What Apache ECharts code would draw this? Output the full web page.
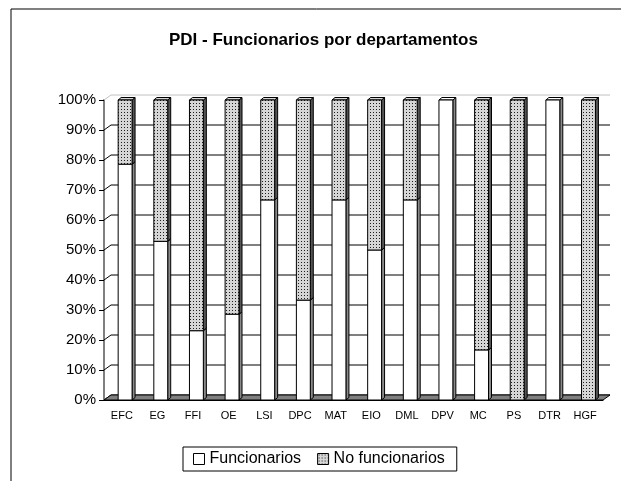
<!DOCTYPE html>
<html>
<head>
<meta charset="utf-8">
<script src="https://cdn.jsdelivr.net/npm/echarts@6/dist/echarts.min.js"></script>
<style>
  html, body { margin: 0; padding: 0; background: #fff; }
  #chart { width: 621px; height: 481px; }
</style>
</head>
<body>
<div id="chart"></div>
<script>
// departamentos y porcentajes
var departamentos = ['EFC', 'EG', 'FFI', 'OE', 'LSI', 'DPC', 'MAT', 'EIO', 'DML', 'DPV', 'MC', 'PS', 'DTR', 'HGF']
var funcionarios = [78.6, 52.9, 23.1, 28.6, 66.7, 33.3, 66.7, 50, 66.7, 100, 16.7, 0, 100, 0]
var noFuncionarios = [21.4, 47.1, 76.9, 71.4, 33.3, 66.7, 33.3, 50, 33.3, 0, 83.3, 100, 0, 100]
var yTicks = [0, 10, 20, 30, 40, 50, 60, 70, 80, 90, 100]

var DX = 7, DY = 5        // profundidad de la pared del fondo
var BDX = 3, BDY = 2.5    // profundidad de las barras

// textura punteada
var pat = document.createElement('canvas')
pat.width = 3
pat.height = 3
var pc = pat.getContext('2d')
pc.fillStyle = '#d6d6d6'
pc.fillRect(0, 0, 3, 3)
pc.fillStyle = '#1e1e1e'
pc.fillRect(1, 1, 1, 1)
var dotted = { image: pat, repeat: 'repeat' }

// segmentos apilados [indice, base, tope]
function stackData (vals, bases) {
  return vals.map(function (v, i) { return [i, bases[i], bases[i] + v] })
}
var zeros = departamentos.map(function () { return 0 })

function renderBar (front, side, top) {
  return function (params, api) {
    var lo = api.value(1), hi = api.value(2)
    if (hi - lo <= 0) return null
    var p0 = api.coord([api.value(0), lo])
    var p1 = api.coord([api.value(0), hi])
    var bw = api.size([1, 0])[0] * 0.39
    var x = p0[0] + 3.3 - bw / 2
    var yT = p1[1], yB = p0[1]
    return {
      type: 'group',
      children: [
        { type: 'polygon', shape: { points: [[x + bw, yT], [x + bw + BDX, yT - BDY], [x + bw + BDX, yB - BDY], [x + bw, yB]] },
          style: { fill: side, stroke: '#000', lineWidth: 1 } },
        { type: 'polygon', shape: { points: [[x, yT], [x + BDX, yT - BDY], [x + bw + BDX, yT - BDY], [x + bw, yT]] },
          style: { fill: top, stroke: '#000', lineWidth: 1 } },
        { type: 'rect', shape: { x: x, y: yT, width: bw, height: yB - yT },
          style: { fill: front, stroke: '#000', lineWidth: 1 } }
      ]
    }
  }
}

var option = {
  animation: false,
  backgroundColor: '#fff',
  textStyle: { fontFamily: 'Liberation Sans, Arial, sans-serif', color: '#000' },
  title: {
    text: 'PDI - Funcionarios por departamentos',
    left: 164,
    top: 27,
    textStyle: { fontSize: 17, fontWeight: 'bold', color: '#000', fontFamily: 'Liberation Sans, Arial, sans-serif' }
  },
  graphic: [{
    type: 'rect', shape: { x: 11, y: 9, width: 700, height: 600 },
    style: { fill: null, stroke: '#000', lineWidth: 1 }, silent: true
  }],
  legend: {
    left: 183,
    top: 447,
    orient: 'horizontal',
    borderColor: '#000',
    borderWidth: 1,
    padding: [4, 12, 4, 10],
    itemWidth: 11,
    itemHeight: 11,
    itemGap: 16,
    icon: 'rect',
    textStyle: { fontSize: 16, color: '#000' },
    data: [
      { name: 'Funcionarios', itemStyle: { color: '#fff', borderColor: '#000', borderWidth: 1 } },
      { name: 'No funcionarios', itemStyle: { color: dotted, borderColor: '#000', borderWidth: 1 } }
    ]
  },
  grid: { left: 104, top: 100, width: 499, height: 300 },
  xAxis: {
    type: 'category',
    data: departamentos,
    boundaryGap: true,
    axisLine: { lineStyle: { color: '#000', width: 1 } },
    axisTick: { length: 4, lineStyle: { color: '#000' } },
    axisLabel: { fontSize: 11, color: '#000', margin: 10, interval: 0 },
    splitLine: { show: false }
  },
  yAxis: {
    type: 'value',
    min: 0,
    max: 100,
    interval: 10,
    axisLine: { show: true, lineStyle: { color: '#808080', width: 2 } },
    axisTick: { show: true, length: 5, lineStyle: { color: '#000' } },
    axisLabel: { fontSize: 15, color: '#000', margin: 8, formatter: '{value}%' },
    splitLine: { show: false }
  },
  series: [
    {
      name: 'grid3d',
      type: 'custom',
      silent: true,
      z: 1,
      data: yTicks.map(function (v) { return [0, v] }),
      renderItem: function (params, api) {
        var cs = params.coordSys
        var v = api.value(1)
        var y = api.coord([0, v])[1]
        var col = v === 100 ? '#c0c0c0' : '#000'
        return {
          type: 'group',
          children: [
            { type: 'line', shape: { x1: cs.x, y1: y, x2: cs.x + DX, y2: y - DY }, style: { stroke: col, lineWidth: 1 } },
            { type: 'line', shape: { x1: cs.x + DX, y1: y - DY, x2: cs.x + cs.width + DX, y2: y - DY }, style: { stroke: col, lineWidth: 1 } }
          ]
        }
      }
    },
    {
      name: 'floor',
      type: 'custom',
      silent: true,
      z: 2,
      data: [[0, 0]],
      renderItem: function (params, api) {
        var cs = params.coordSys
        var yb = api.coord([0, 0])[1]
        return {
          type: 'polygon',
          shape: { points: [[cs.x, yb], [cs.x + cs.width, yb], [cs.x + cs.width + DX, yb - DY], [cs.x + DX, yb - DY]] },
          style: { fill: '#808080', stroke: '#000', lineWidth: 1 }
        }
      }
    },
    {
      name: 'Funcionarios',
      type: 'custom',
      z: 3,
      itemStyle: { color: '#fff', borderColor: '#000' },
      encode: { x: 0, y: [1, 2] },
      data: stackData(funcionarios, zeros),
      renderItem: renderBar('#fff', '#8a8a8a', '#fff')
    },
    {
      name: 'No funcionarios',
      type: 'custom',
      z: 4,
      itemStyle: { color: dotted, borderColor: '#000' },
      encode: { x: 0, y: [1, 2] },
      data: stackData(noFuncionarios, funcionarios),
      renderItem: renderBar(dotted, '#555555', dotted)
    }
  ]
}

var chart = echarts.init(document.getElementById('chart'))
chart.setOption(option)
</script>
</body>
</html>
